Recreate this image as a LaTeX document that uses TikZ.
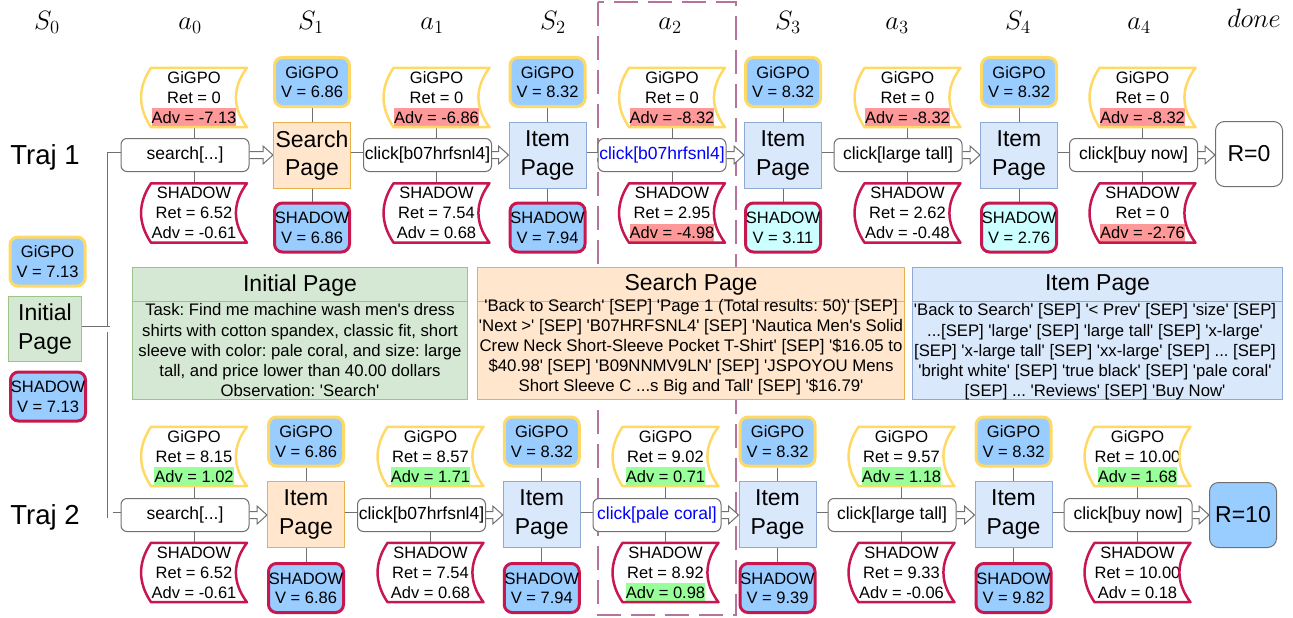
\documentclass[tikz,border=0pt]{standalone}
\usepackage[no-math]{fontspec}
\setmainfont{Liberation Sans}[Ligatures=TeXOff]
\usetikzlibrary{calc}
\frenchspacing
% scalable math italic and roman for the large column headings
\DeclareFontShape{OML}{cmm}{m}{it}{<->cmmi12}{}
\DeclareFontShape{OT1}{cmr}{m}{n}{<-11>cmr10<11->cmr12}{}

\definecolor{ylw}{HTML}{FFD966}
\definecolor{crim}{HTML}{C7174E}
\definecolor{vblue}{HTML}{99CCFF}
\definecolor{vcyan}{HTML}{CCFFFF}
\definecolor{advred}{HTML}{FF9999}
\definecolor{advgreen}{HTML}{99FF99}
\definecolor{orgfill}{HTML}{FFE6CC}
\definecolor{orgline}{HTML}{E8B04A}
\definecolor{bluefill}{HTML}{DAE8FC}
\definecolor{blueline}{HTML}{8DA9D4}
\definecolor{grnfill}{HTML}{D5E8D4}
\definecolor{grnline}{HTML}{9CC48A}
\definecolor{focusline}{HTML}{B5739D}
\definecolor{edge}{HTML}{707070}
\definecolor{actblue}{HTML}{0000FF}

\pgfdeclarelayer{bg}
\pgfsetlayers{bg,main}

% struts and highlighted advantage lines
\newcommand\st{\rule[-3.7pt]{0pt}{19pt}}
\newcommand\hl[2]{{\setlength{\fboxsep}{0pt}\colorbox{#1}{\st #2}}}
\newcommand\advR[1]{\hl{advred}{Adv = #1}}
\newcommand\advG[1]{\hl{advgreen}{Adv = #1}}
\newcommand\advN[1]{\st{}Adv = #1}

\tikzset{
  wavy/.style={minimum width=105.5pt, minimum height=58.5pt, inner sep=0pt,
    align=center, font=\fontsize{16.5}{20}\selectfont},
  wavyline/.style={line width=2.5pt, line join=round},
  act/.style={draw=edge, fill=white, rounded corners=6pt, line width=1pt,
    minimum width=128pt, minimum height=33pt, inner sep=0pt,
    font=\fontsize{17.5}{21}\selectfont},
  valbox/.style={rounded corners=8pt, line width=3pt, minimum width=75pt,
    minimum height=49pt, inner sep=0pt, align=center,
    font=\fontsize{16.5}{19.4}\selectfont},
  page/.style={line width=1pt, minimum width=77pt, minimum height=66pt,
    inner sep=0pt, align=center, font=\fontsize{23}{28.3}\selectfont},
  orgpage/.style={page, fill=orgfill, draw=orgline},
  bluepage/.style={page, fill=bluefill, draw=blueline},
  endbox/.style={draw=edge, line width=1pt, rounded corners=9pt,
    minimum width=67pt, minimum height=65pt, inner sep=0pt,
    font=\fontsize{23}{28}\selectfont},
  panel/.style={line width=1pt, inner sep=0pt},
  phead/.style={font=\fontsize{23}{28}\selectfont},
  pbody/.style={align=center, font=\fontsize{16.7}{20.2}\selectfont},
  hlabel/.style={anchor=base, font=\fontsize{26.5}{32}\selectfont},
  trajlbl/.style={anchor=base, font=\fontsize{27.5}{33}\selectfont},
  tie/.style={draw=edge, line width=1pt},
  linkline/.style={draw=edge, line width=0.8pt, double=white, double distance=5pt},
  flexarr/.style={draw=edge, fill=white, line width=1pt, line join=miter},
  focus/.style={draw=focusline, line width=2pt, dash pattern=on 24pt off 10pt}
}

% value/advantage box with a convex left and concave right side
\newcommand\wavyedge[2]{%
  \draw[wavyline, draw=#2]
    ($(#1.north west)+(10pt,0)$) -- (#1.north east)
    .. controls ($(#1.north east)!.333!(#1.south east)+(-14.7pt,0)$)
           and ($(#1.north east)!.667!(#1.south east)+(-14.7pt,0)$) .. (#1.south east)
    -- ($(#1.south west)+(10pt,0)$)
    .. controls ($(#1.south west)!.333!(#1.north west)+(-3.3pt,0)$)
           and ($(#1.south west)!.667!(#1.north west)+(-3.3pt,0)$) .. ($(#1.north west)+(10pt,0)$)
    -- cycle;}
\newcommand\wv[7]{%
  \node[wavy] (#1) at (#2,#3) {\st{}#5\\Ret = #6\\#7};
  \wavyedge{#1}{#4}}
\newcommand\vb[7]{%
  \node[valbox, draw=#4, fill=#5] (#1) at (#2,#3) {\st{}#6\\\st{}V = #7};}
% hollow block arrow from an action to the next state
\newcommand\flex[2]{%
  \draw[flexarr] ($(#1.east)+(0,3.5pt)$)
    -- ($(#2.west |- #1.east)+(-10pt,3.5pt)$)
    -- ($(#2.west |- #1.east)+(-10pt,9pt)$)
    -- (#2.west |- #1.east)
    -- ($(#2.west |- #1.east)+(-10pt,-9pt)$)
    -- ($(#2.west |- #1.east)+(-10pt,-3.5pt)$)
    -- ($(#1.east)+(0,-3.5pt)$);}
% double link from a state to the next action
\newcommand\lnk[2]{\draw[linkline] (#1.east |- #2.west) -- (#2.west);}
\newcommand\colties[3]{%
  \draw[tie] (#1.south) -- (#1.south |- #2.north);
  \draw[tie] (#3.north |- #2.south) -- (#3.north);}
\newcommand\pageties[3]{%
  \draw[tie] (#1.south) -- (#2.north);
  \draw[tie] (#2.south) -- (#3.north);}

\begin{document}
\begin{tikzpicture}[x=1pt, y=-1pt]
\useasboundingbox (0,0) rectangle (1293,618);

% column headings
\node[hlabel] (hS0) at (47,30) {$S_0$};
\node[hlabel] (ha0) at (190,30) {$a_0$};
\node[hlabel] (hS1) at (311,30) {$S_1$};
\node[hlabel] (ha1) at (432,30) {$a_1$};
\node[hlabel] (hS2) at (553,30) {$S_2$};
\node[hlabel] (ha2) at (670,30) {$a_2$};
\node[hlabel] (hS3) at (788,30) {$S_3$};
\node[hlabel] (ha3) at (897,30) {$a_3$};
\node[hlabel] (hS4) at (1018,30) {$S_4$};
\node[hlabel] (ha4) at (1139,30) {$a_4$};
\node[hlabel] (hdone) at (1254,27.5) {$done$};

\node[trajlbl] (traj1) at (45,164) {Traj 1};
\node[trajlbl] (traj2) at (45,524) {Traj 2};

% initial state
\vb{gv0}{47.5}{261.5}{ylw}{vblue}{GiGPO}{7.13}
\node[page, fill=grnfill, draw=grnline, minimum width=73pt, minimum height=65pt] (init) at (45,329) {Initial\\Page};
\vb{sv0}{48}{396.5}{crim}{vblue}{SHADOW}{7.13}
\coordinate (jx) at (110,329);

% ---------------- trajectory 1 ----------------
\wv{t1g0}{194}{97.5}{ylw}{GiGPO}{0}{\advR{-7.13}}
\node[act] (t1a0) at (185,155) {search[...]};
\wv{t1s0}{194}{213}{crim}{SHADOW}{6.52}{\advN{-0.61}}

\vb{t1gv1}{312}{82}{ylw}{vblue}{GiGPO}{6.86}
\node[orgpage] (t1p1) at (312,155.5) {Search\\Page};
\vb{t1sv1}{312}{227.5}{crim}{vblue}{SHADOW}{6.86}

\wv{t1g1}{436.5}{97.5}{ylw}{GiGPO}{0}{\advR{-6.86}}
\node[act] (t1a1) at (427.5,155) {click[b07hrfsnl4]};
\wv{t1s1}{436.5}{213}{crim}{SHADOW}{7.54}{\advN{0.68}}

\vb{t1gv2}{547.5}{82}{ylw}{vblue}{GiGPO}{8.32}
\node[bluepage] (t1p2) at (547.5,155.5) {Item\\Page};
\vb{t1sv2}{547.5}{227.5}{crim}{vblue}{SHADOW}{7.94}

\wv{t1g2}{672}{97.5}{ylw}{GiGPO}{0}{\advR{-8.32}}
\node[act, text=actblue] (t1a2) at (662,155) {click[b07hrfsnl4]};
\wv{t1s2}{672}{213}{crim}{SHADOW}{2.95}{\advR{-4.98}}

\vb{t1gv3}{783}{82}{ylw}{vblue}{GiGPO}{8.32}
\node[bluepage] (t1p3) at (783,155.5) {Item\\Page};
\vb{t1sv3}{783}{227.5}{crim}{vcyan}{SHADOW}{3.11}

\wv{t1g3}{907.5}{97.5}{ylw}{GiGPO}{0}{\advR{-8.32}}
\node[act] (t1a3) at (898,155) {click[large tall]};
\wv{t1s3}{907.5}{213}{crim}{SHADOW}{2.62}{\advN{-0.48}}

\vb{t1gv4}{1019}{82}{ylw}{vblue}{GiGPO}{8.32}
\node[bluepage] (t1p4) at (1019,155.5) {Item\\Page};
\vb{t1sv4}{1019}{227.5}{crim}{vcyan}{SHADOW}{2.76}

\wv{t1g4}{1142.5}{97.5}{ylw}{GiGPO}{0}{\advR{-8.32}}
\node[act] (t1a4) at (1133.5,155) {click[buy now]};
\wv{t1s4}{1142.5}{213}{crim}{SHADOW}{0}{\advR{-2.76}}

\node[endbox, fill=white] (t1r) at (1249,154) {R=0};

% ---------------- observation panels ----------------
\node[panel, fill=grnfill, draw=grnline, minimum width=335pt, minimum height=132pt] (pinit) at (300,333.5) {};
\draw[draw=grnline, line width=1pt] (pinit.west |- 0,301) -- (pinit.east |- 0,301);
\node[phead] (pinit-h) at (300,285.6) {Initial Page};
\node[pbody] (pinit-b) at (300,350.4) {Task: Find me machine wash men's dress\\shirts with cotton spandex, classic fit, short\\sleeve with color: pale coral, and size: large\\tall, and price lower than 40.00 dollars\\Observation: 'Search'};

\node[panel, fill=orgfill, draw=orgline, minimum width=427pt, minimum height=132pt] (psearch) at (691,333.5) {};
\draw[draw=orgline, line width=1pt] (psearch.west |- 0,301) -- (psearch.east |- 0,301);
\node[phead] (psearch-h) at (691,284.6) {Search Page};
\node[pbody, font=\fontsize{16.8}{20}\selectfont] (psearch-b) at (691,347.3) {'Back to Search' [SEP] 'Page 1 (Total results: 50)' [SEP]\\'Next >' [SEP] 'B07HRFSNL4' [SEP] 'Nautica Men's Solid\\Crew Neck Short-Sleeve Pocket T-Shirt' [SEP] '\$16.05 to\\\$40.98' [SEP] 'B09NNMV9LN' [SEP] 'JSPOYOU Mens\\Short Sleeve C ...s Big and Tall' [SEP] '\$16.79'};

\node[panel, fill=bluefill, draw=blueline, minimum width=370pt, minimum height=132pt] (pitem) at (1097.5,333.5) {};
\draw[draw=blueline, line width=1pt] (pitem.west |- 0,301) -- (pitem.east |- 0,301);
\node[phead] (pitem-h) at (1097.5,284.9) {Item Page};
\node[pbody] (pitem-b) at (1095,352) {'Back to Search' [SEP] '< Prev' [SEP] 'size' [SEP]\\...[SEP] 'large' [SEP] 'large tall' [SEP] 'x-large'\\{}[SEP] 'x-large tall' [SEP] 'xx-large' [SEP] ... [SEP]\\'bright white' [SEP] 'true black' [SEP] 'pale coral'\\{}[SEP] ... 'Reviews' [SEP] 'Buy Now'};

% ---------------- trajectory 2 ----------------
\wv{t2g0}{194}{456.5}{ylw}{GiGPO}{8.15}{\advG{1.02}}
\node[act] (t2a0) at (185,515) {search[...]};
\wv{t2s0}{194}{572.5}{crim}{SHADOW}{6.52}{\advN{-0.61}}

\vb{t2gv1}{306}{441.5}{ylw}{vblue}{GiGPO}{6.86}
\node[orgpage] (t2p1) at (306,514.5) {Item\\Page};
\vb{t2sv1}{306}{588}{crim}{vblue}{SHADOW}{6.86}

\wv{t2g1}{430.5}{456.5}{ylw}{GiGPO}{8.57}{\advG{1.71}}
\node[act] (t2a1) at (421.5,515) {click[b07hrfsnl4]};
\wv{t2s1}{430.5}{572.5}{crim}{SHADOW}{7.54}{\advN{0.68}}

\vb{t2gv2}{541.75}{441.5}{ylw}{vblue}{GiGPO}{8.32}
\node[bluepage] (t2p2) at (541.75,514.5) {Item\\Page};
\vb{t2sv2}{541.75}{588}{crim}{vblue}{SHADOW}{7.94}

\wv{t2g2}{665.5}{456.5}{ylw}{GiGPO}{9.02}{\advG{0.71}}
\node[act, text=actblue] (t2a2) at (657,515) {click[pale coral]};
\wv{t2s2}{665.5}{572.5}{crim}{SHADOW}{8.92}{\advG{0.98}}

\vb{t2gv3}{777.5}{441.5}{ylw}{vblue}{GiGPO}{8.32}
\node[bluepage] (t2p3) at (777.5,514.5) {Item\\Page};
\vb{t2sv3}{777.5}{588}{crim}{vblue}{SHADOW}{9.39}

\wv{t2g3}{901.5}{456.5}{ylw}{GiGPO}{9.57}{\advG{1.18}}
\node[act] (t2a3) at (892,515) {click[large tall]};
\wv{t2s3}{901.5}{572.5}{crim}{SHADOW}{9.33}{\advN{-0.06}}

\vb{t2gv4}{1013.5}{441.5}{ylw}{vblue}{GiGPO}{8.32}
\node[bluepage] (t2p4) at (1013.5,514.5) {Item\\Page};
\vb{t2sv4}{1013.5}{588}{crim}{vblue}{SHADOW}{9.82}

\wv{t2g4}{1137.5}{456.5}{ylw}{GiGPO}{10.00}{\advG{1.68}}
\node[act] (t2a4) at (1128,515) {click[buy now]};
\wv{t2s4}{1137.5}{572.5}{crim}{SHADOW}{10.00}{\advN{0.18}}

\node[endbox, fill=vblue] (t2r) at (1243,515) {R=10};

% ---------------- connectors (behind the boxes) ----------------
\begin{pgfonlayer}{bg}
  \draw[focus] (598,2) rectangle (736,615);

  \draw[linkline] (t1a0.west) -| (jx) |- (t2a0.west);
  \draw[linkline] (init.east) -- (jx);

  \colties{t1g0}{t1a0}{t1s0}
  \colties{t1g1}{t1a1}{t1s1}
  \colties{t1g2}{t1a2}{t1s2}
  \colties{t1g3}{t1a3}{t1s3}
  \colties{t1g4}{t1a4}{t1s4}
  \pageties{t1gv1}{t1p1}{t1sv1}
  \pageties{t1gv2}{t1p2}{t1sv2}
  \pageties{t1gv3}{t1p3}{t1sv3}
  \pageties{t1gv4}{t1p4}{t1sv4}
  \flex{t1a0}{t1p1} \flex{t1a1}{t1p2} \flex{t1a2}{t1p3} \flex{t1a3}{t1p4} \flex{t1a4}{t1r}
  \lnk{t1p1}{t1a1} \lnk{t1p2}{t1a2} \lnk{t1p3}{t1a3} \lnk{t1p4}{t1a4}

  \colties{t2g0}{t2a0}{t2s0}
  \colties{t2g1}{t2a1}{t2s1}
  \colties{t2g2}{t2a2}{t2s2}
  \colties{t2g3}{t2a3}{t2s3}
  \colties{t2g4}{t2a4}{t2s4}
  \pageties{t2gv1}{t2p1}{t2sv1}
  \pageties{t2gv2}{t2p2}{t2sv2}
  \pageties{t2gv3}{t2p3}{t2sv3}
  \pageties{t2gv4}{t2p4}{t2sv4}
  \flex{t2a0}{t2p1} \flex{t2a1}{t2p2} \flex{t2a2}{t2p3} \flex{t2a3}{t2p4} \flex{t2a4}{t2r}
  \lnk{t2p1}{t2a1} \lnk{t2p2}{t2a2} \lnk{t2p3}{t2a3} \lnk{t2p4}{t2a4}
\end{pgfonlayer}
\end{tikzpicture}
\end{document}
